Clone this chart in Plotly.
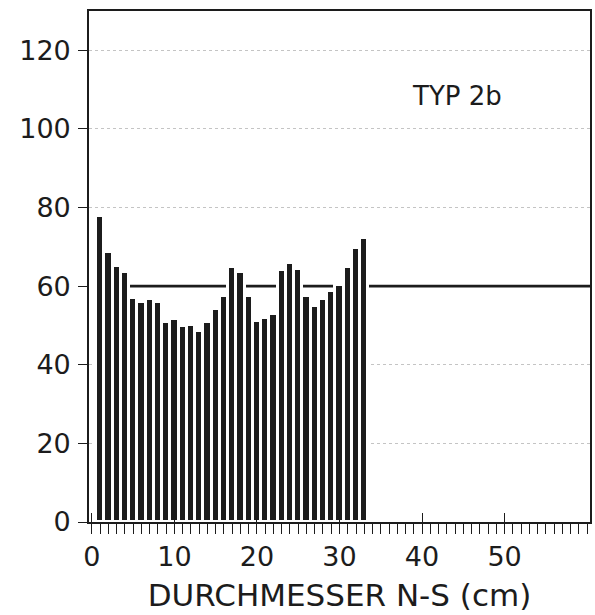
import plotly.graph_objects as go

# Data
diameter_cm = list(range(1, 34))
values = [77.9, 68.6, 65.1, 63.5, 57.1, 55.9, 56.7, 55.9, 50.9, 51.7,
          49.9, 50.1, 48.7, 50.9, 54.1, 57.5, 64.9, 63.6, 57.5, 51.1,
          52.0, 52.9, 64.1, 65.8, 64.4, 57.5, 54.9, 56.7, 58.7, 60.4,
          64.8, 69.6, 72.2]
reference_level = 60
y_ticks = [0, 20, 40, 60, 80, 100, 120]
y_grid = [v for v in y_ticks if v not in (0, reference_level)]
x_major = [0, 10, 20, 30, 40, 50]
x_minor = list(range(0, 61))
x_ticktext = [str(v) if v in x_major else "" for v in x_minor]
label_text = "TYP 2b"
x_title = "DURCHMESSER N-S (cm)"

FONT = "DejaVu Sans, Liberation Sans, Arial, sans-serif"
INK = "#1c1c1c"
XR = [-0.35, 60.35]

fig = go.Figure()
fig.add_trace(go.Bar(
    x=diameter_cm, y=values, width=1.0,
    marker=dict(color=INK, line=dict(color="white", width=3)),
    showlegend=False, hoverinfo="x+y",
))
# invisible helper trace so the overlay axis (inner major ticks) is rendered
fig.add_trace(go.Scatter(x=[None], y=[None], xaxis="x2", yaxis="y",
                         mode="markers", showlegend=False, hoverinfo="skip"))

# reference level line, starting at the first bar and running to the frame
fig.add_shape(type="line", layer="below", xref="x", yref="y",
              x0=diameter_cm[0] - 0.5, x1=XR[1],
              y0=reference_level, y1=reference_level,
              line=dict(color=INK, width=2.6))

fig.add_annotation(text=label_text, xref="paper", yref="y",
                   x=0.734, y=108.5, xanchor="center", yanchor="middle",
                   showarrow=False,
                   font=dict(family=FONT, size=26, color=INK))

fig.update_layout(
    width=595, height=615,
    margin=dict(l=89, r=3, t=11, b=93),
    paper_bgcolor="white", plot_bgcolor="white",
    bargap=0,
    font=dict(family=FONT, color=INK),
    xaxis=dict(
        range=XR, tickmode="array", tickvals=x_minor, ticktext=x_ticktext,
        ticks="outside", ticklen=10, tickwidth=1.2, tickcolor=INK,
        showline=True, linecolor=INK, linewidth=1.6, mirror=True,
        showgrid=False, zeroline=False,
        tickfont=dict(family=FONT, size=27, color=INK),
        ticklabelstandoff=0,
        title=dict(text=x_title, font=dict(family=FONT, size=31, color=INK),
                   standoff=13),
    ),
    xaxis2=dict(
        range=XR, overlaying="x", side="bottom", anchor="y",
        tickmode="array", tickvals=x_major, ticks="inside", ticklen=9,
        tickwidth=1.2, tickcolor=INK, showticklabels=False,
        showgrid=False, zeroline=False, showline=False,
    ),
    yaxis=dict(
        range=[0, 130], tickmode="array", tickvals=y_ticks,
        ticks="outside", ticklen=9, tickwidth=1.4, tickcolor=INK,
        showline=True, linecolor=INK, linewidth=1.6, mirror=True,
        showgrid=False, zeroline=False,
        minor=dict(tickmode="array", tickvals=y_grid, ticks="",
                   showgrid=True, gridcolor="#c4c4c4", griddash="dot",
                   gridwidth=1),
        tickfont=dict(family=FONT, size=27, color=INK),
        ticklabelstandoff=2,
    ),
)

fig.write_html("out.html")
